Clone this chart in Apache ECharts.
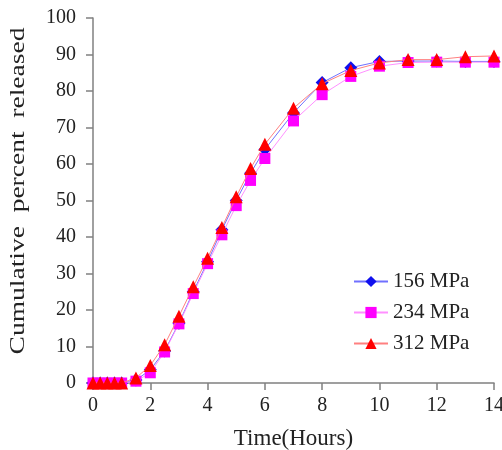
<!DOCTYPE html>
<html>
<head>
<meta charset="utf-8">
<script src="https://cdn.jsdelivr.net/npm/echarts@6/dist/echarts.min.js"></script>
<style>html,body{margin:0;padding:0;background:#fff}#c{width:502px;height:450px}</style>
</head>
<body>
<div id="c"></div>
<script>
var hours = [0, 0.25, 0.5, 0.75, 1, 1.5, 2, 2.5, 3, 3.5, 4, 4.5, 5, 5.5, 6, 7, 8, 9, 10, 11, 12, 13, 14];
var mpa156 = [0, 0, 0, 0, 0, 0.8, 3.6, 8.8, 16.4, 25, 33.2, 42, 50, 57.5, 64, 74, 82.3, 86.4, 88.1, 88.2, 88.2, 88.1, 88.1];
var mpa234 = [0, 0, 0, 0, 0, 0.5, 2.8, 8.5, 16.2, 24.5, 32.7, 40.6, 48.6, 55.5, 61.5, 71.8, 79, 84, 86.8, 87.8, 87.9, 87.9, 87.9];
var mpa312 = [0, 0, 0, 0, 0, 1.4, 4.8, 10.5, 18.3, 26.4, 34.2, 42.6, 51, 58.8, 65.4, 75.3, 82, 85.6, 87.7, 88.6, 88.6, 89.4, 89.6];
var seriesNames = ['156 MPa', '234 MPa', '312 MPa'];
var xTicks = {min: 0, max: 14, step: 2};
var yTicks = {min: 0, max: 100, step: 10};

function pairs(vals) { return hours.map(function (h, i) { return [h, vals[i]]; }); }

var font = '"Liberation Serif", "Times New Roman", serif';
var chart = echarts.init(document.getElementById('c'));
chart.setOption({
  animation: false,
  grid: {left: 93, right: 8, top: 18, bottom: 67, containLabel: false, outerBoundsMode: 'none'},
  legend: {
    orient: 'vertical', left: 353, top: 271, padding: 0, itemWidth: 34, itemHeight: 14, itemGap: 10,
    textStyle: {fontFamily: font, fontSize: 21, color: '#222'},
    data: seriesNames
  },
  xAxis: {
    type: 'value', min: xTicks.min, max: xTicks.max, interval: xTicks.step,
    name: 'Time(Hours)', nameLocation: 'middle', nameGap: 44,
    nameTextStyle: {fontFamily: font, fontSize: 23, color: '#222'},
    axisLine: {lineStyle: {color: '#808080', width: 1.5}},
    axisTick: {show: true, length: 7, lineStyle: {color: '#808080', width: 1.5}},
    axisLabel: {fontFamily: font, fontSize: 20, color: '#222', margin: 13},
    splitLine: {show: false}
  },
  yAxis: {
    type: 'value', min: yTicks.min, max: yTicks.max, interval: yTicks.step,
    axisLine: {show: true, lineStyle: {color: '#808080', width: 1.5}},
    axisTick: {show: true, length: 7, lineStyle: {color: '#808080', width: 1.5}},
    axisLabel: {fontFamily: font, fontSize: 20, color: '#222', margin: 17},
    splitLine: {show: false}
  },
  graphic: [{
    type: 'text', x: 18, y: 191, rotation: Math.PI / 2, scaleX: 1.25,
    style: {text: 'Cumulative  percent  released', font: '22px ' + font, fill: '#222', align: 'center', verticalAlign: 'middle'}
  }],
  series: [
    {name: seriesNames[0], type: 'line', data: pairs(mpa156), symbol: 'diamond', symbolSize: 13,
      itemStyle: {color: '#1010ee'}, lineStyle: {color: '#7070ff', width: 1}, z: 2},
    {name: seriesNames[1], type: 'line', data: pairs(mpa234), symbol: 'rect', symbolSize: 11,
      itemStyle: {color: '#ff00ff'}, lineStyle: {color: '#ff90ff', width: 1}, z: 3},
    {name: seriesNames[2], type: 'line', data: pairs(mpa312), symbol: 'triangle', symbolSize: 13,
      itemStyle: {color: '#ff0000'}, lineStyle: {color: '#ff8080', width: 1}, z: 4}
  ]
});
</script>
</body>
</html>
